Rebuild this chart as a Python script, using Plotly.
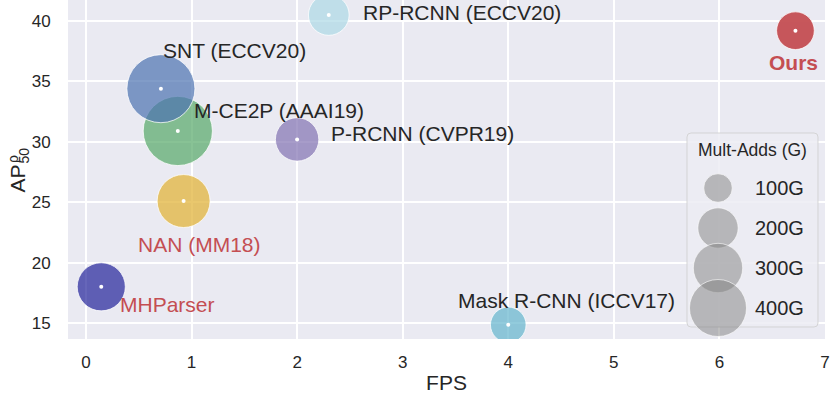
import plotly.graph_objects as go

# ---------------- data ----------------
methods = ["RP-RCNN (ECCV20)", "Ours", "M-CE2P (AAAI19)", "SNT (ECCV20)",
           "P-RCNN (CVPR19)", "NAN (MM18)", "MHParser", "Mask R-CNN (ICCV17)"]
fps = [2.30, 6.72, 0.87, 0.71, 2.00, 0.925, 0.145, 4.00]
ap50 = [40.5, 39.2, 30.9, 34.4, 30.2, 25.1, 18.0, 14.85]
mult_adds = [204, 175, 590, 570, 232, 345, 285, 156]

legend_sizes = [100, 200, 300, 400]
legend_labels = ["100G", "200G", "300G", "400G"]
x_ticks = [0, 1, 2, 3, 4, 5, 6, 7]
y_ticks = [15, 20, 25, 30, 35, 40]

# ---------------- styles ----------------
colors = ["rgba(173,216,230,0.7)", "rgba(196,78,82,0.95)", "rgba(85,168,104,0.7)",
          "rgba(76,114,176,0.7)", "rgba(129,114,178,0.7)", "rgba(226,180,60,0.75)",
          "rgba(0,0,139,0.6)", "rgba(100,181,205,0.7)"]
RED = "#c44e52"
TXT = "#262626"
label_style = {
    "RP-RCNN (ECCV20)": dict(xanchor="left", xshift=32, yshift=2, color=TXT, bold=False),
    "Ours": dict(xanchor="center", xshift=-2, yshift=-32, color=RED, bold=True),
    "M-CE2P (AAAI19)": dict(xanchor="left", xshift=14, yshift=20, color=TXT, bold=False),
    "SNT (ECCV20)": dict(xanchor="left", xshift=0, yshift=38, color=TXT, bold=False),
    "P-RCNN (CVPR19)": dict(xanchor="left", xshift=32, yshift=6, color=TXT, bold=False),
    "NAN (MM18)": dict(xanchor="center", xshift=16, yshift=-43, color=RED, bold=False),
    "MHParser": dict(xanchor="left", xshift=17, yshift=-18, color=RED, bold=False),
    "Mask R-CNN (ICCV17)": dict(xanchor="left", xshift=-52, yshift=24, color=TXT, bold=False),
}
FONT = "Liberation Sans, Arial, sans-serif"
BASE_D = 28.5
SIZEREF = 2 * 100 / BASE_D ** 2

W, H = 831, 394
ML, MR, MT, MB = 68, 6, 0, 55
PW, PH = W - ML - MR, H - MT - MB
XR = [-0.17, 7.0]
YR = [13.68, 41.74]

def px2x(px):
    return XR[0] + px * (XR[1] - XR[0]) / PW

def py2y(py):
    return YR[1] - py * (YR[1] - YR[0]) / PH

fig = go.Figure()

# bubbles
fig.add_trace(go.Scatter(
    x=fps, y=ap50, mode="markers",
    marker=dict(size=mult_adds, sizemode="area", sizeref=SIZEREF, color=colors, opacity=1,
                line=dict(color="rgba(255,255,255,0.75)", width=1)),
    hoverinfo="text", text=methods, showlegend=False))
# center dots
fig.add_trace(go.Scatter(
    x=fps, y=ap50, mode="markers",
    marker=dict(size=4, color="white", opacity=1), hoverinfo="skip", showlegend=False))

# labels
for name, xv, yv in zip(methods, fps, ap50):
    s = label_style[name]
    txt = f"<b>{name}</b>" if s["bold"] else name
    fig.add_annotation(x=xv, y=yv, xref="x", yref="y", text=txt, showarrow=False,
                       xanchor=s["xanchor"], yanchor="middle",
                       xshift=s["xshift"], yshift=s["yshift"],
                       font=dict(family=FONT, size=21, color=s["color"]))

# ---------------- size legend (pixel frame axes) ----------------
leg_x = 650
leg_row0 = 188
leg_step = 40
leg_y = [leg_row0 + i * leg_step for i in range(len(legend_sizes))]
fig.add_trace(go.Scatter(
    x=[leg_x] * len(legend_sizes), y=leg_y, xaxis="x2", yaxis="y2", mode="markers",
    marker=dict(size=legend_sizes, sizemode="area", sizeref=SIZEREF,
                color="rgba(128,128,128,0.5)", opacity=1,
                line=dict(color="rgba(255,255,255,0.6)", width=1)),
    hoverinfo="skip", showlegend=False))
for lab, yy in zip(legend_labels, leg_y):
    fig.add_annotation(x=738, y=yy, xref="x2", yref="y2", text=lab, showarrow=False,
                       xanchor="right", yanchor="middle",
                       font=dict(family=FONT, size=20, color=TXT))
fig.add_annotation(x=684, y=149.5, xref="x2", yref="y2", text="Mult-Adds (G)",
                   showarrow=False, xanchor="center", yanchor="middle",
                   font=dict(family=FONT, size=17.5, color=TXT))
bx0, bx1, by0, by1, r = 619, 750, 133, 327, 4
pts = lambda px, py: f"{px2x(px)},{py2y(py)}"
path = (f"M{pts(bx0+r,by0)} L{pts(bx1-r,by0)} Q{pts(bx1,by0)} {pts(bx1,by0+r)} "
        f"L{pts(bx1,by1-r)} Q{pts(bx1,by1)} {pts(bx1-r,by1)} L{pts(bx0+r,by1)} "
        f"Q{pts(bx0,by1)} {pts(bx0,by1-r)} L{pts(bx0,by0+r)} Q{pts(bx0,by0)} {pts(bx0+r,by0)} Z")
fig.add_shape(type="path", path=path, xref="x", yref="y", layer="between",
              fillcolor="rgba(236,236,243,0.85)",
              line=dict(color="rgba(210,210,210,0.9)", width=1))

# y-axis title: AP with stacked rho / 50
def px_to_paper_x(px):
    return (px - ML) / PW

def py_to_paper_y(py):
    return (MT + PH - py) / PH

fig.add_annotation(x=px_to_paper_x(16.5), y=py_to_paper_y(178), xref="paper", yref="paper",
                   text="AP", textangle=-90, showarrow=False,
                   xanchor="center", yanchor="middle",
                   font=dict(family=FONT, size=21, color=TXT))
fig.add_annotation(x=px_to_paper_x(23.5), y=py_to_paper_y(156), xref="paper", yref="paper",
                   text="50", textangle=-90, showarrow=False,
                   xanchor="center", yanchor="middle",
                   font=dict(family=FONT, size=14, color=TXT))
fig.add_annotation(x=px_to_paper_x(12.5), y=py_to_paper_y(159.5), xref="paper", yref="paper",
                   text="ρ", textangle=-90, showarrow=False,
                   xanchor="center", yanchor="middle",
                   font=dict(family=FONT, size=14, color=TXT))

fig.update_layout(
    width=W, height=H,
    margin=dict(l=ML, r=MR, t=MT, b=MB, autoexpand=False),
    paper_bgcolor="white", plot_bgcolor="#eaeaf2",
    font=dict(family=FONT, color=TXT),
    xaxis=dict(range=XR, tickvals=x_ticks, showgrid=True, gridcolor="white",
               gridwidth=1.5, zeroline=False, showline=False, automargin=False,
               ticks="outside", ticklen=8, tickcolor="rgba(0,0,0,0)",
               tickfont=dict(size=17, color=TXT),
               title=dict(text="FPS", font=dict(size=21, color=TXT), standoff=4)),
    yaxis=dict(range=YR, tickvals=y_ticks, showgrid=True, gridcolor="white",
               gridwidth=1.5, zeroline=False, showline=False, automargin=False,
               ticks="outside", ticklen=13, tickcolor="rgba(0,0,0,0)",
               tickfont=dict(size=17, color=TXT)),
    xaxis2=dict(range=[0, PW], overlaying="x", anchor="y2", visible=False,
                showgrid=False, zeroline=False, automargin=False),
    yaxis2=dict(range=[PH, 0], overlaying="y", anchor="x2", visible=False,
                showgrid=False, zeroline=False, automargin=False),
    showlegend=False,
)

fig.write_html("out.html", config={"displayModeBar": False},
               post_script="document.body.style.margin='0';document.body.style.overflow='hidden';")
